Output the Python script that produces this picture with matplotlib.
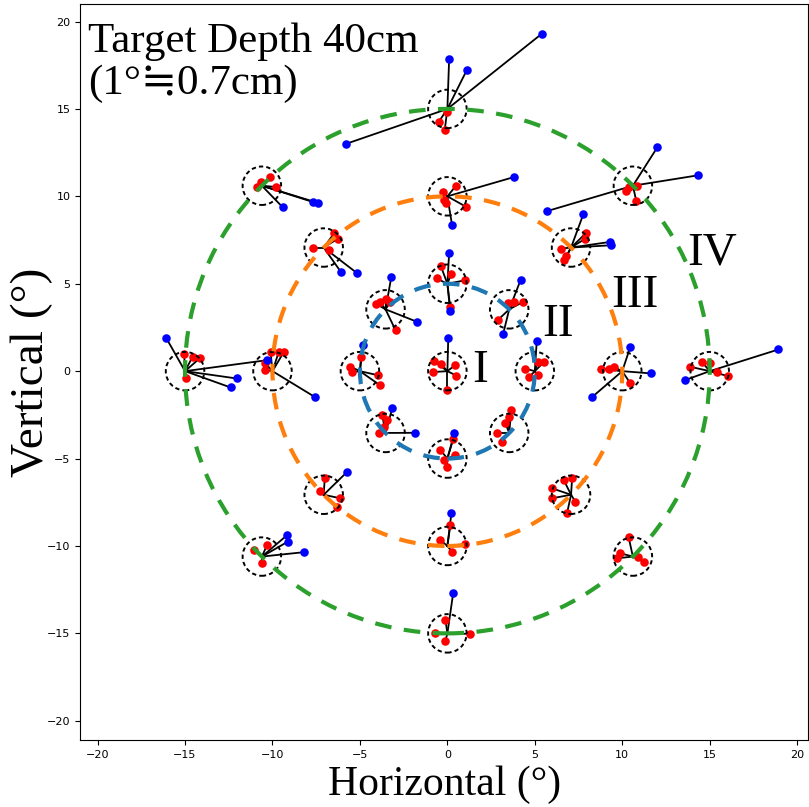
import numpy as np
import matplotlib
matplotlib.use("Agg")
from matplotlib import pyplot as plt
from matplotlib.patches import Circle

# target layout: centre + three rings of 8 targets
ring_radii = [5, 10, 15]
ring_angles = [0, 45, 90, 135, 180, 225, 270, 315]
ring_colors = ["tab:blue", "tab:orange", "tab:green"]
ring_names = ["II", "III", "IV"]

# offsets (deg) of gaze points from their target
red_center = [(-0.75, 0.57), (-0.35, 0.4), (0.45, 0.35), (0.5, -0.25), (-0.8, -0.05), (0.0, -1.1)]
blue_center = [(0.05, 1.9)]

red_r5 = [
    [(0.17, 0.53), (0.53, 0.53), (-0.56, 0.15), (-0.31, -0.33), (0.17, -0.23)],
    [(0.78, 0.42), (0.3, 0.42), (-0.66, -0.62), (-0.05, 0.35)],
    [(-0.37, 1.0), (-0.61, 0.3), (1.03, 0.2), (0.23, 0.58), (0.16, -1.33)],
    [(0.04, 0.62), (-0.56, 0.33), (-0.32, 0.42), (0.28, 0.42), (0.57, -1.19)],
    [(-0.54, 0.25), (0.06, 0.82), (1.02, -0.23), (1.14, -0.8), (-0.43, -0.06)],
    [(-0.19, 1.02), (0.09, 0.74), (-0.1, 0.35), (-0.39, -0.02)],
    [(0.33, 1.1), (-0.4, 0.49), (-0.21, -0.09), (0.46, 0.2), (0.0, -0.49)],
    [(0.12, 1.31), (-0.03, 0.93), (-0.22, 0.55), (-0.7, 0.0), (-0.41, -0.5)],
]
blue_r5 = [
    [(0.11, 1.73)],
    [(0.66, 1.7), (-0.35, -1.42)],
    [(0.1, 1.74), (0.16, -1.55)],
    [(0.33, 1.85), (1.82, -0.72)],
    [(0.18, 1.49)],
    [(0.38, 1.4), (1.67, 0.01)],
    [(0.4, 1.44)],
    [],
]

red_r10 = [
    [(-1.23, 0.15), (-0.5, 0.25), (0.46, -0.7), (-0.74, 0.15)],
    [(0.86, 0.83), (0.82, 0.51), (-0.57, -0.06), (-0.27, -0.5), (-0.38, -0.73)],
    [(0.48, 0.59), (-0.23, 0.25), (-0.19, -0.23), (1.09, -0.61), (-0.06, -0.4)],
    [(0.61, 0.83), (0.81, 0.51), (-0.62, 0.0), (0.3, -0.15)],
    [(-0.11, 1.1), (0.36, 1.1), (0.65, 1.1), (-0.4, 0.44), (-0.4, 0.06)],
    [(0.06, 0.94), (0.95, -0.2), (0.77, -0.69), (-0.2, 0.2)],
    [(0.17, 1.2), (-0.4, 0.34), (1.03, 0.11), (0.27, -0.33)],
    [(0.06, 0.94), (-0.42, 0.85), (-1.09, 0.37), (-1.09, -0.2), (0.25, -0.4), (-0.23, -1.06)],
]
blue_r10 = [
    [(0.46, 1.39), (1.66, -0.13), (-1.71, -1.47)],
    [(0.7, 1.9), (2.22, 0.32), (2.29, 0.13)],
    [(3.8, 1.1), (0.27, -1.66)],
    [(0.98, -1.39), (1.89, -1.45)],
    [(2.41, -1.47)],
    [(1.34, 1.31)],
    [(0.23, 1.87)],
    [],
]

red_r15 = [
    [(-1.11, 0.25), (-0.45, 0.53), (0.03, 0.47), (0.41, -0.04), (1.07, -0.29)],
    [(-0.4, -0.3), (0.2, -0.9), (0.25, 0.0), (-0.25, -0.1)],
    [(0.0, -0.15), (-0.5, -0.75), (-0.15, -1.2)],
    [(0.47, 0.5), (-0.25, -0.07), (0.78, -0.07), (-0.04, 0.19)],
    [(-0.05, 1.0), (0.87, 0.76), (0.07, -0.42), (0.43, 0.82)],
    [(-0.46, 0.38), (0.02, -0.38), (0.3, 0.66)],
    [(-0.11, 0.77), (-0.69, 0.01), (-0.11, -0.43), (1.31, -0.03)],
    [(-0.25, 1.14), (-0.72, 0.19), (-0.91, -0.1), (0.61, -0.29), (0.31, 0.0)],
]
blue_r15 = [
    [(3.93, 1.24), (-1.4, -0.51)],
    [(1.4, 2.2), (3.75, 0.6), (-4.9, -1.45)],
    [(0.1, 2.83), (1.1, 2.2), (5.4, 4.3), (-5.8, -2.0)],
    [(1.18, -1.22), (2.92, -0.93), (3.23, -0.99)],
    [(-1.06, 1.87), (2.96, -0.42), (2.6, -0.93), (4.7, 0.63)],
    [(1.45, 1.23), (1.48, 0.85), (2.39, 0.25)],
    [(0.33, 2.29)],
    [],
]

red_rings = [red_r5, red_r10, red_r15]
blue_rings = [blue_r5, blue_r10, blue_r15]

serif = ["Liberation Serif", "Noto Sans CJK JP", "DejaVu Serif"]


def draw_target(ax, tx, ty, reds, blues):
    for pts, col in ((reds, "red"), (blues, "blue")):
        for dx, dy in pts:
            ax.plot([tx, tx + dx], [ty, ty + dy], color="black", lw=1.3, zorder=2)
        if pts:
            p = np.array(pts)
            ax.scatter(tx + p[:, 0], ty + p[:, 1], s=38, color=col, zorder=3, linewidths=0)
    ax.add_patch(Circle((tx, ty), 1.1, fill=False, ec="black", lw=1.4,
                        ls=(0, (2.2, 1.6)), zorder=4))


fig = plt.figure(figsize=(8.09, 8.07), dpi=100)
ax = fig.add_axes([0.099, 0.083, 0.9, 0.912])

# centre target
draw_target(ax, 0, 0, red_center, blue_center)

for r, reds_r, blues_r in zip(ring_radii, red_rings, blue_rings):
    for ang, reds, blues in zip(ring_angles, reds_r, blues_r):
        a = np.deg2rad(ang)
        draw_target(ax, r * np.cos(a), r * np.sin(a), reds, blues)

# dashed rings on top
for r, col in zip(ring_radii, ring_colors):
    ax.add_patch(Circle((0, 0), r, fill=False, ec=col, lw=3, ls=(0, (4, 3)), zorder=5))

# region labels
ax.text(1.9, 0.05, "I", fontsize=34, family=serif, ha="center", va="center")
ax.text(6.35, 2.65, "II", fontsize=34, family=serif, ha="center", va="center")
ax.text(10.7, 4.3, "III", fontsize=34, family=serif, ha="center", va="center")
ax.text(15.15, 6.75, "IV", fontsize=34, family=serif, ha="center", va="center")

ax.text(-20.55, 19.95, "Target Depth 40cm\n(1°≒0.7cm)", fontsize=31, family=serif,
        ha="left", va="top", linespacing=1.12)

ax.set_xlim(-21, 20.63)
ax.set_ylim(-21.1, 21)
ax.set_xticks(range(-20, 21, 5))
ax.set_yticks(range(-20, 21, 5))
ax.tick_params(labelsize=8)
ax.set_xlabel("Horizontal (°)", fontsize=30, family=serif, labelpad=4)
ax.set_ylabel("Vertical (°)", fontsize=34, family=serif)
ax.yaxis.set_label_coords(-0.037, 0.5)

plt.savefig("out.png", dpi=100)
